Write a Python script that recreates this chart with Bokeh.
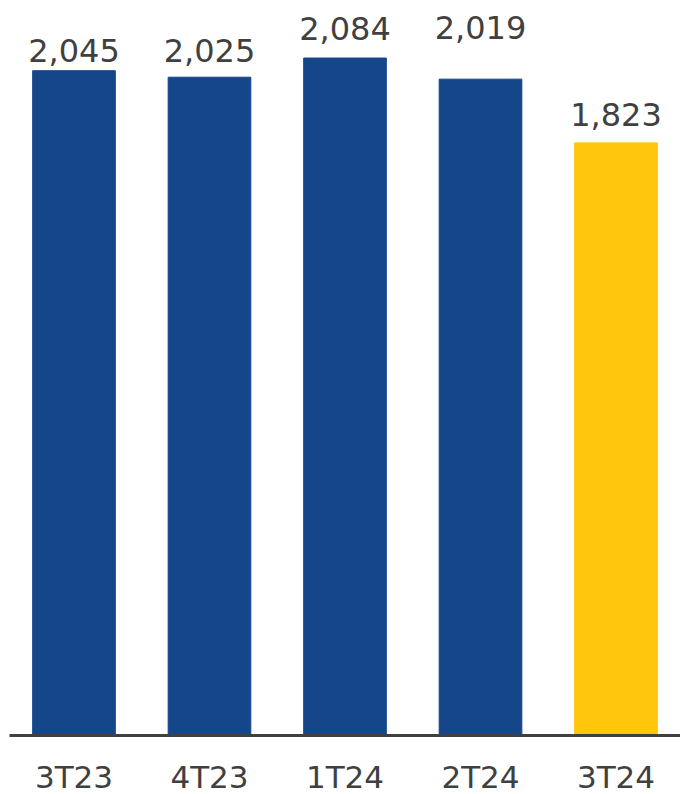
from bokeh.plotting import figure
from bokeh.models import ColumnDataSource, Range1d, FactorRange
from bokeh.core.properties import value
from bokeh.embed import file_html
from bokeh.resources import INLINE

quarters = ["3T23", "4T23", "1T24", "2T24", "3T24"]
values = [2045, 2025, 2084, 2019, 1823]
bar_colors = ["#15468A", "#15468A", "#15468A", "#15468A", "#FFC60B"]
labels = ["{:,}".format(v) for v in values]
# pixel gap between each bar top and its label baseline (style)
label_gaps = [8, 15, 18, 40, 16]
label_offsets = [-(g + 12) for g in label_gaps]

src = ColumnDataSource(dict(q=quarters, v=values, c=bar_colors, lab=labels, off=label_offsets))

p = figure(
    x_range=FactorRange(*quarters, range_padding=-0.024, range_padding_units="absolute"),
    y_range=Range1d(0, 2261),
    frame_width=671, frame_height=735,
    output_backend="svg", toolbar_location=None,
    min_border_left=9, min_border_right=0, min_border_top=0, min_border_bottom=0,
)
p.vbar(x="q", top="v", width=0.61, color="c", source=src)
p.text(x="q", y="v", text="lab", source=src, text_align="center",
       text_baseline="alphabetic", y_offset="off",
       text_font=value("DejaVu Sans"), text_font_size="32px", text_color="#404040")

p.yaxis.visible = False
p.xgrid.visible = False
p.ygrid.visible = False
p.outline_line_color = None
p.xaxis.axis_line_color = "#404040"
p.xaxis.axis_line_width = 3
p.xaxis.major_tick_line_color = None
p.xaxis.minor_tick_line_color = None
p.xaxis.major_label_text_font = "DejaVu Sans"
p.xaxis.major_label_text_font_size = "31px"
p.xaxis.major_label_text_color = "#404040"
p.xaxis.major_label_standoff = 17

open("out.html", "w").write(file_html(p, INLINE))
